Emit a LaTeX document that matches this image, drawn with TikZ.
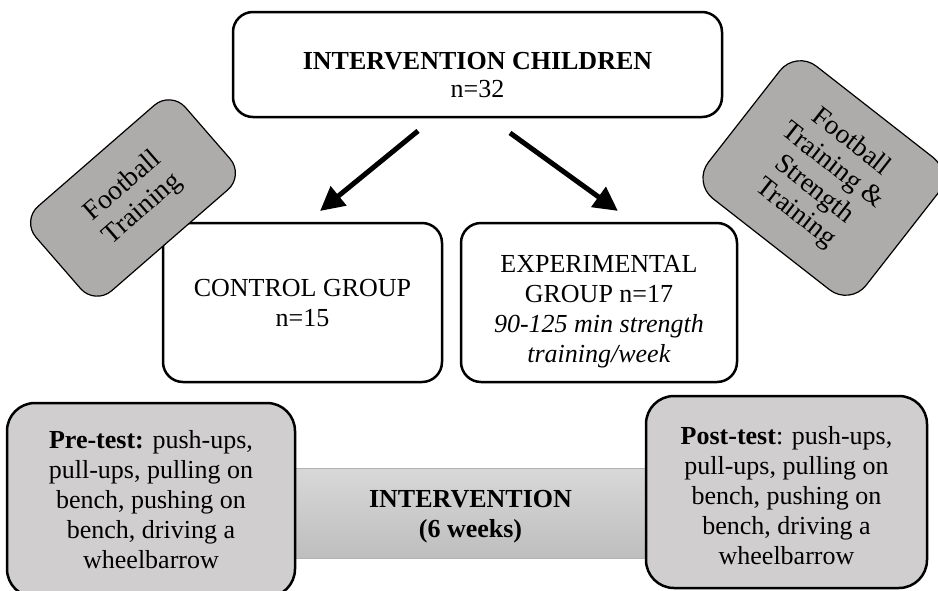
\documentclass[tikz,border=0pt]{standalone}
\usepackage{fontspec}
\setmainfont{Liberation Serif}
\usetikzlibrary{arrows.meta}
\definecolor{rotgray}{HTML}{AEABAB}
\definecolor{testgray}{HTML}{D0CECE}
\definecolor{bartop}{HTML}{D8D8D8}
\definecolor{barbot}{HTML}{BEBEBE}
\newcommand{\shiftdown}[2]{\raisebox{-#1}[\height][\depth]{\begin{tabular}{@{}c@{}}#2\end{tabular}}}
\tikzset{
  txt/.style={font=\fontsize{26pt}{30pt}\selectfont, align=center, inner sep=0pt},
  whitebox/.style={txt, draw=black, line width=2.5pt, rounded corners=20pt, fill=white},
  rotbox/.style={txt, font=\fontsize{27.5pt}{30pt}\selectfont, draw=black, line width=1.2pt, rounded corners=22pt, fill=rotgray},
  testbox/.style={txt, draw=black, line width=2.5pt, rounded corners=28pt, fill=testgray},
  barbox/.style={txt, draw=gray!60, line width=0.6pt, top color=bartop, bottom color=barbot},
  bigarrow/.style={line width=5pt, -{Triangle[length=24pt,width=24pt]}},
}
\begin{document}
\begin{tikzpicture}[x=1pt,y=-1pt]
\useasboundingbox (0,0) rectangle (938,590);
% main boxes
\node[whitebox, minimum width=489pt, minimum height=105pt] (top) at (477.5,64.5)
  {\shiftdown{13pt}{\textbf{INTERVENTION CHILDREN}\\[-2pt]n=32}};
\node[whitebox, minimum width=279pt, minimum height=159pt] (ctrl) at (302.5,302.5)
  {\shiftdown{3pt}{CONTROL GROUP\\n=15}};
\node[whitebox, minimum width=276pt, minimum height=159pt] (exp) at (599,302.5)
  {\shiftdown{9pt}{EXPERIMENTAL\\GROUP n=17\\\textit{90-125 min strength}\\\textit{training/week}}};
% rotated labels
\node[rotbox, minimum width=198pt, minimum height=112pt, rotate=41] (ft) at (133,198)
  {Football\\Training};
\node[rotbox, minimum width=200pt, minimum height=168pt, rotate=-38, rounded corners=26pt] (fst) at (823,178)
  {Football\\Training \&\\Strength\\Training};
% arrows
\draw[bigarrow, shorten <=20pt, shorten >=17pt] ([xshift=-44pt]top.south) -- ([xshift=4.4pt]ctrl.north);
\draw[bigarrow, shorten <=25pt, shorten >=18.5pt] ([xshift=12.25pt]top.south) -- ([xshift=33.9pt]exp.north);
% bottom row
\node[barbox, minimum width=351pt, minimum height=90pt] (bar) at (470.5,513)
  {\shiftdown{3pt}{\textbf{INTERVENTION}\\\textbf{(6 weeks)}}};
\node[testbox, minimum width=288pt, minimum height=194pt] (pre) at (151,500)
  {\textbf{Pre-test:} push-ups,\\pull-ups, pulling on\\bench, pushing on\\bench, driving a\\wheelbarrow};
\node[testbox, minimum width=281pt, minimum height=192pt] (post) at (786.5,492)
  {\shiftdown{6pt}{\textbf{Post-test}: push-ups,\\pull-ups, pulling on\\bench, pushing on\\bench, driving a\\wheelbarrow}};
\end{tikzpicture}
\end{document}
